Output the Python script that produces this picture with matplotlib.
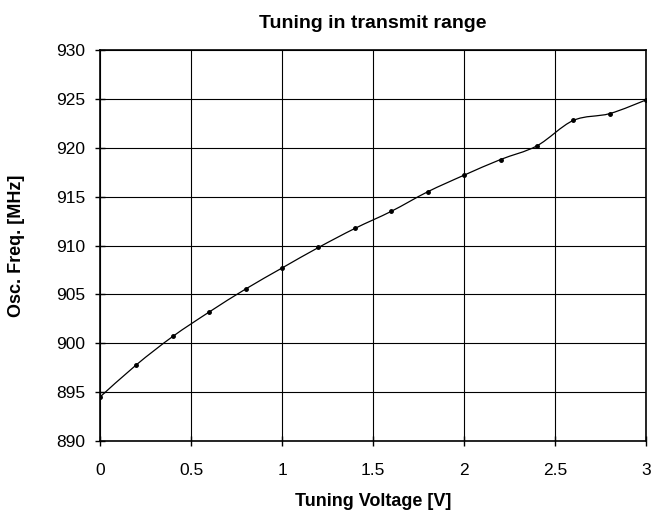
import matplotlib
matplotlib.use("Agg")
import matplotlib.pyplot as plt
import numpy as np
from matplotlib.path import Path
from matplotlib.patches import PathPatch

plt.rcParams["font.family"] = ["Liberation Sans", "DejaVu Sans"]

voltage = [0.0, 0.2, 0.4, 0.6, 0.8, 1.0, 1.2, 1.4, 1.6, 1.8, 2.0, 2.2, 2.4, 2.6, 2.8, 3.0]
freq = [894.5, 897.8, 900.7, 903.2, 905.55, 907.7, 909.8, 911.75, 913.5, 915.5,
        917.2, 918.8, 920.2, 922.8, 923.5, 924.9]


def smooth_path(x, y, t=1 / 6):
    # Catmull-Rom style bezier, like the spreadsheet "smoothed line"
    x = np.asarray(x)
    y = np.asarray(y)
    verts = [(x[0], y[0])]
    codes = [Path.MOVETO]
    n = len(x)
    for i in range(n - 1):
        p0 = i - 1 if i > 0 else i
        p3 = i + 2 if i + 2 < n else i + 1
        c1 = (x[i] + (x[i + 1] - x[p0]) * t, y[i] + (y[i + 1] - y[p0]) * t)
        c2 = (x[i + 1] - (x[p3] - x[i]) * t, y[i + 1] - (y[p3] - y[i]) * t)
        verts += [c1, c2, (x[i + 1], y[i + 1])]
        codes += [Path.CURVE4] * 3
    return Path(verts, codes)


fig = plt.figure(figsize=(6.6, 5.11), dpi=100)
ax = fig.add_axes([0.1515, 0.137, 0.8275, 0.765])

ax.add_patch(PathPatch(smooth_path(voltage, freq), facecolor="none",
                       edgecolor="black", lw=0.9, zorder=3))
ax.plot(voltage, freq, linestyle="none", marker="o", markersize=2.5,
        color="black", zorder=4)

ax.set_xlim(0, 3)
ax.set_ylim(890, 930)
ax.set_xticks(np.arange(0, 3.01, 0.5))
ax.set_xticklabels(["0", "0.5", "1", "1.5", "2", "2.5", "3"])
ax.set_yticks(np.arange(890, 931, 5))
ax.grid(True, color="black", lw=0.8)
ax.set_axisbelow(True)
for s in ax.spines.values():
    s.set_linewidth(1.2)
ax.tick_params(axis="both", labelsize=12.5, length=7, width=1, direction="inout")
ax.tick_params(axis="y", pad=7)
ax.tick_params(axis="x", pad=12)

fig.text(0.565, 0.945, "Tuning in transmit range", fontsize=14, fontweight="bold",
         ha="center", va="baseline")
ax.set_xlabel("Tuning Voltage [V]", fontsize=13, fontweight="bold")
ax.set_ylabel("Osc. Freq. [MHz]", fontsize=13, fontweight="bold")
ax.xaxis.set_label_coords(0.5, -0.133)
ax.yaxis.set_label_coords(-0.137, 0.5)

fig.savefig("out.png", dpi=100)
